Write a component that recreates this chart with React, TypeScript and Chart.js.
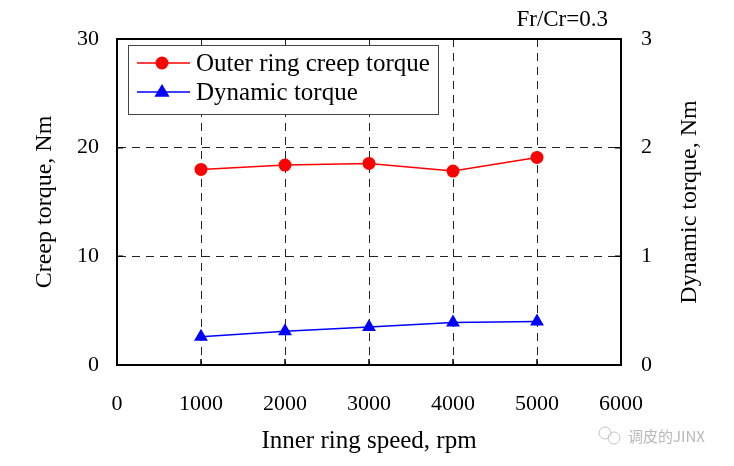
import React, { useEffect, useRef } from "react";
import { Chart, registerables } from "chart.js";

Chart.register(...registerables);

// ---- data ----
const speeds = [1000, 2000, 3000, 4000, 5000];
const creepTorque = [18.0, 18.4, 18.55, 17.85, 19.1];
const dynamicTorque = [0.26, 0.31, 0.35, 0.39, 0.4];
const seriesLabels = ["Outer ring creep torque", "Dynamic torque"];
const xTitle = "Inner ring speed, rpm";
const yLeftTitle = "Creep torque, Nm";
const yRightTitle = "Dynamic torque, Nm";
const annotation = "Fr/Cr=0.3";
const watermark = "调皮的JINX";

const FONT = "'Liberation Serif', 'Times New Roman', serif";

const framePlugin = {
  id: "frame",
  afterDraw(chart: any) {
    const { ctx, chartArea } = chart;
    const { left, right, top, bottom } = chartArea;
    ctx.save();
    // box
    ctx.strokeStyle = "#000";
    ctx.lineWidth = 2;
    ctx.setLineDash([]);
    ctx.strokeRect(left, top, right - left, bottom - top);
    // inward ticks
    ctx.lineWidth = 1.5;
    const ys = chart.scales.y;
    const y1 = chart.scales.y1;
    const xs = chart.scales.x;
    ctx.beginPath();
    ys.ticks.forEach((t: any) => {
      const p = ys.getPixelForValue(t.value);
      ctx.moveTo(left, p);
      ctx.lineTo(left + 6, p);
    });
    y1.ticks.forEach((t: any) => {
      const p = y1.getPixelForValue(t.value);
      ctx.moveTo(right, p);
      ctx.lineTo(right - 6, p);
    });
    xs.ticks.forEach((t: any) => {
      const p = xs.getPixelForValue(t.value);
      ctx.moveTo(p, bottom);
      ctx.lineTo(p, bottom - 6);
    });
    ctx.stroke();

    // legend
    const lx = left + 11;
    const ly = top + 6;
    const lw = 310;
    const lh = 69;
    ctx.fillStyle = "#fff";
    ctx.fillRect(lx, ly, lw, lh);
    ctx.strokeStyle = "#444";
    ctx.lineWidth = 1;
    ctx.strokeRect(lx + 0.5, ly + 0.5, lw, lh);
    chart.data.datasets.forEach((ds: any, i: number) => {
      const cy = ly + 18 + i * 29;
      ctx.strokeStyle = ds.borderColor;
      ctx.lineWidth = 1.5;
      ctx.beginPath();
      ctx.moveTo(lx + 9, cy);
      ctx.lineTo(lx + 62, cy);
      ctx.stroke();
      ctx.fillStyle = ds.backgroundColor;
      ctx.beginPath();
      const mx = lx + 34;
      if (ds.pointStyle === "triangle") {
        const r = 8;
        ctx.moveTo(mx, cy - r);
        ctx.lineTo(mx + r * 0.95, cy + r * 0.6);
        ctx.lineTo(mx - r * 0.95, cy + r * 0.6);
        ctx.closePath();
      } else {
        ctx.arc(mx, cy, 6.5, 0, Math.PI * 2);
      }
      ctx.fill();
      ctx.fillStyle = "#000";
      ctx.font = `25px ${FONT}`;
      ctx.textAlign = "left";
      ctx.textBaseline = "middle";
      ctx.fillText(ds.label, lx + 68, cy + 1);
    });

    // right axis title (reads bottom-to-top)
    ctx.save();
    ctx.translate(690, (top + bottom) / 2);
    ctx.rotate(-Math.PI / 2);
    ctx.fillStyle = "#000";
    ctx.font = `24px ${FONT}`;
    ctx.textAlign = "center";
    ctx.textBaseline = "middle";
    ctx.fillText(yRightTitle, 0, 0);
    ctx.restore();

    // annotation
    ctx.fillStyle = "#000";
    ctx.font = `23px ${FONT}`;
    ctx.textAlign = "right";
    ctx.textBaseline = "alphabetic";
    ctx.fillText(annotation, right - 13, 26);

    // watermark
    ctx.strokeStyle = "#c4c4c4";
    ctx.lineWidth = 1;
    ctx.beginPath();
    ctx.arc(605, 433, 6, 0, Math.PI * 2);
    ctx.stroke();
    ctx.beginPath();
    ctx.arc(614, 438, 6, 0, Math.PI * 2);
    ctx.stroke();
    ctx.fillStyle = "#b8b8b8";
    ctx.font = `15px 'Noto Sans CJK SC', sans-serif`;
    ctx.textAlign = "left";
    ctx.textBaseline = "middle";
    ctx.fillText(watermark, 628, 436);
    ctx.restore();
  },
};

export default function App() {
  const ref = useRef<HTMLCanvasElement | null>(null);

  useEffect(() => {
    const canvas = ref.current;
    if (!canvas) return;
    const chart = new Chart(canvas, {
      type: "line",
      data: {
        datasets: [
          {
            label: seriesLabels[0],
            data: speeds.map((s, i) => ({ x: s, y: creepTorque[i] })),
            borderColor: "#ff0000",
            backgroundColor: "#ff0000",
            pointStyle: "circle",
            pointRadius: 6.5,
            pointBorderWidth: 0,
            borderWidth: 1.5,
            yAxisID: "y",
          },
          {
            label: seriesLabels[1],
            data: speeds.map((s, i) => ({ x: s, y: dynamicTorque[i] })),
            borderColor: "#0000ff",
            backgroundColor: "#0000ff",
            pointStyle: "triangle",
            pointRadius: 8,
            pointBorderWidth: 0,
            borderWidth: 1.5,
            yAxisID: "y1",
          },
        ],
      },
      options: {
        animation: false,
        responsive: false,
        devicePixelRatio: 1,
        layout: { padding: { top: 39, left: 0, right: 0, bottom: 0 } },
        plugins: {
          legend: { display: false },
          tooltip: { enabled: false },
        },
        scales: {
          x: {
            type: "linear",
            min: 0,
            max: 6000,
            afterFit: (s: any) => {
              s.height = 101;
            },
            ticks: {
              stepSize: 1000,
              padding: 26,
              color: "#000",
              font: { family: FONT, size: 22 },
              callback: (v: any) => String(v),
            },
            grid: {
              drawTicks: false,
              lineWidth: 1,
              color: (c: any) =>
                c.tick && (c.tick.value === 0 || c.tick.value === 6000)
                  ? "rgba(0,0,0,0)"
                  : "#222",
            },
            border: { display: true, color: "#000", width: 2, dash: [8, 6] },
            title: {
              display: true,
              text: xTitle,
              color: "#000",
              font: { family: FONT, size: 25 },
              padding: { top: 0, bottom: 10 },
            },
          },
          y: {
            type: "linear",
            position: "left",
            min: 0,
            max: 30,
            afterFit: (s: any) => {
              s.width = 117;
            },
            ticks: {
              stepSize: 10,
              padding: 18,
              color: "#000",
              font: { family: FONT, size: 22 },
              callback: (v: any) => String(v),
            },
            grid: {
              drawTicks: false,
              lineWidth: 1,
              color: (c: any) =>
                c.tick && (c.tick.value === 0 || c.tick.value === 30)
                  ? "rgba(0,0,0,0)"
                  : "#222",
            },
            border: { display: true, color: "#000", width: 2, dash: [8, 6] },
            title: {
              display: true,
              text: yLeftTitle,
              color: "#000",
              font: { family: FONT, size: 24 },
              padding: { top: 30, bottom: 0 },
            },
          },
          y1: {
            type: "linear",
            position: "right",
            min: 0,
            max: 3,
            afterFit: (s: any) => {
              s.width = 113;
            },
            ticks: {
              stepSize: 1,
              padding: 20,
              color: "#000",
              font: { family: FONT, size: 22 },
              callback: (v: any) => String(v),
            },
            grid: { display: false, drawTicks: false },
            border: { display: true, color: "#000", width: 2 },
            title: { display: false },
          },
        },
      },
      plugins: [framePlugin],
    });
    return () => chart.destroy();
  }, []);

  return (
    <div
      style={{
        position: "fixed",
        left: 0,
        top: 0,
        width: 734,
        height: 466,
        background: "#fff",
      }}
    >
      <canvas ref={ref} width={734} height={466} style={{ display: "block" }} />
    </div>
  );
}
